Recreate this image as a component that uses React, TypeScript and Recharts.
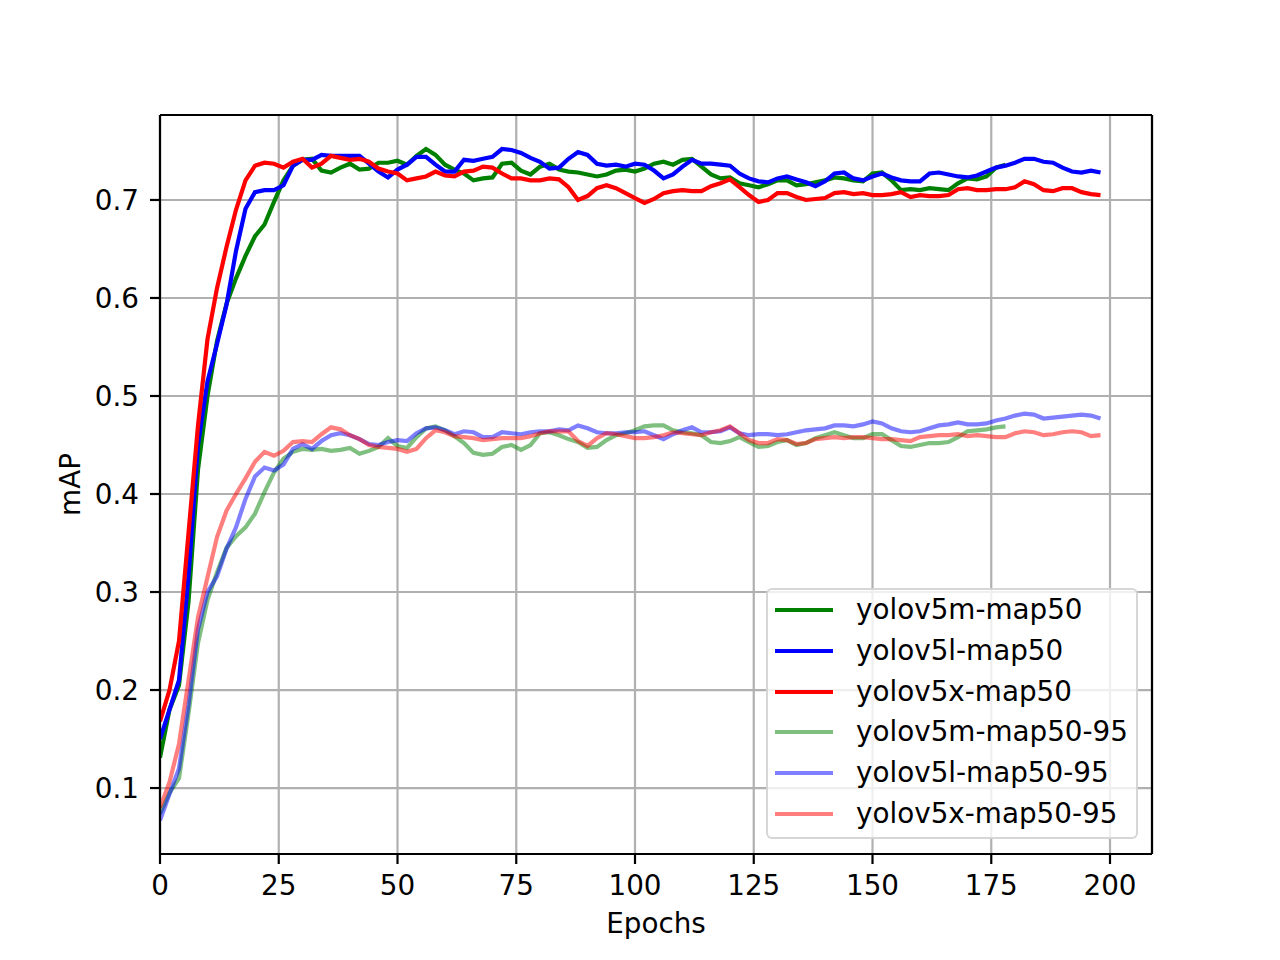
import {
  LineChart,
  Line,
  XAxis,
  YAxis,
  CartesianGrid,
  ReferenceLine,
  Label,
} from "recharts";

// epochs sampled every 2 epochs
const epochs = Array.from({ length: 100 }, (_, i) => i * 2);

const yolov5mMap50 = [
  0.131, 0.18, 0.205, 0.29, 0.425, 0.5, 0.556, 0.594, 0.62, 0.643,
  0.663, 0.675, 0.698, 0.72, 0.735, 0.741, 0.742, 0.73, 0.728, 0.733,
  0.737, 0.731, 0.732, 0.738, 0.738, 0.74, 0.736, 0.745, 0.752, 0.746,
  0.736, 0.731, 0.727, 0.72, 0.722, 0.723, 0.737, 0.738, 0.73, 0.726,
  0.734, 0.737, 0.731, 0.729, 0.728, 0.726, 0.724, 0.726, 0.73, 0.731,
  0.729, 0.732, 0.737, 0.739, 0.736, 0.741, 0.742, 0.734, 0.726, 0.722,
  0.723, 0.717, 0.715, 0.713, 0.716, 0.72, 0.72, 0.715, 0.716, 0.718,
  0.72, 0.723, 0.722, 0.72, 0.719, 0.727, 0.728, 0.72, 0.71, 0.711,
  0.71, 0.712, 0.711, 0.71, 0.717, 0.722, 0.721, 0.724, 0.733, 0.736,
];

const yolov5lMap50 = [
  0.15, 0.18, 0.21, 0.316, 0.45, 0.515, 0.553, 0.593, 0.648, 0.691,
  0.708, 0.71, 0.71, 0.715, 0.735, 0.741, 0.741, 0.746, 0.745, 0.745,
  0.745, 0.745, 0.737, 0.729, 0.723, 0.731, 0.736, 0.744, 0.744, 0.736,
  0.729, 0.729, 0.741, 0.74, 0.742, 0.744, 0.752, 0.751, 0.748, 0.743,
  0.739, 0.732, 0.733, 0.742, 0.749, 0.746, 0.737, 0.735, 0.736, 0.734,
  0.737, 0.736, 0.73, 0.722, 0.726, 0.734, 0.741, 0.737, 0.737, 0.736,
  0.735, 0.727, 0.722, 0.719, 0.718, 0.722, 0.724, 0.721, 0.718, 0.714,
  0.719, 0.727, 0.728, 0.722, 0.72, 0.724, 0.727, 0.723, 0.72, 0.719,
  0.719, 0.727, 0.728, 0.726, 0.724, 0.723, 0.725, 0.729, 0.733, 0.735,
  0.738, 0.742, 0.742, 0.739, 0.738, 0.733, 0.729, 0.728, 0.73, 0.728,
];

const yolov5xMap50 = [
  0.168, 0.2, 0.25, 0.36, 0.47, 0.558, 0.61, 0.652, 0.69, 0.72,
  0.735, 0.738, 0.737, 0.733, 0.739, 0.742, 0.733, 0.737, 0.745, 0.743,
  0.741, 0.742, 0.739, 0.732, 0.729, 0.727, 0.72, 0.722, 0.724, 0.729,
  0.725, 0.724, 0.729, 0.73, 0.734, 0.733, 0.727, 0.722, 0.722, 0.72,
  0.72, 0.722, 0.721, 0.713, 0.7, 0.704, 0.712, 0.715, 0.712, 0.707,
  0.702, 0.697, 0.701, 0.707, 0.709, 0.71, 0.709, 0.709, 0.714, 0.717,
  0.721, 0.713, 0.705, 0.698, 0.7, 0.707, 0.707, 0.703, 0.7, 0.701,
  0.702, 0.707, 0.708, 0.706, 0.707, 0.705, 0.705, 0.706, 0.708, 0.703,
  0.705, 0.704, 0.704, 0.705, 0.711, 0.712, 0.71, 0.71, 0.711, 0.711,
  0.713, 0.719, 0.716, 0.71, 0.709, 0.712, 0.712, 0.708, 0.706, 0.705,
];

const yolov5mMap5095 = [
  0.074, 0.095, 0.11, 0.176, 0.248, 0.292, 0.32, 0.345, 0.357, 0.366,
  0.38, 0.402, 0.422, 0.436, 0.443, 0.446, 0.445, 0.446, 0.444, 0.445,
  0.447, 0.441, 0.444, 0.448, 0.457, 0.449, 0.447, 0.458, 0.467, 0.469,
  0.465, 0.459, 0.452, 0.442, 0.44, 0.441, 0.448, 0.45, 0.445, 0.45,
  0.462, 0.463, 0.46, 0.456, 0.453, 0.447, 0.448, 0.455, 0.46, 0.462,
  0.465, 0.469, 0.47, 0.47, 0.465, 0.463, 0.462, 0.46, 0.453, 0.452,
  0.454, 0.458, 0.453, 0.448, 0.449, 0.453, 0.455, 0.45, 0.452, 0.457,
  0.46, 0.463, 0.46, 0.457, 0.457, 0.461, 0.461, 0.455, 0.449, 0.448,
  0.45, 0.452, 0.452, 0.453, 0.458, 0.464, 0.465, 0.466, 0.468, 0.469,
];

const yolov5lMap5095 = [
  0.067, 0.094, 0.12, 0.185, 0.262, 0.3, 0.316, 0.344, 0.366, 0.395,
  0.418, 0.427, 0.424, 0.43, 0.446, 0.451, 0.446, 0.454, 0.46, 0.462,
  0.46, 0.456, 0.451, 0.45, 0.453, 0.455, 0.454, 0.462, 0.467, 0.468,
  0.465, 0.461, 0.464, 0.463, 0.458, 0.458, 0.463, 0.462, 0.461, 0.463,
  0.464, 0.464, 0.466, 0.465, 0.47, 0.467, 0.463, 0.462, 0.462, 0.463,
  0.463, 0.464, 0.46, 0.456, 0.461, 0.465, 0.468, 0.463, 0.463, 0.464,
  0.468, 0.462, 0.46, 0.461, 0.461, 0.46, 0.461, 0.463, 0.465, 0.466,
  0.467, 0.47, 0.47, 0.469, 0.471, 0.474, 0.472, 0.467, 0.464, 0.463,
  0.464, 0.467, 0.47, 0.471, 0.473, 0.471, 0.471, 0.472, 0.475, 0.477,
  0.48, 0.482, 0.481, 0.477, 0.478, 0.479, 0.48, 0.481, 0.48, 0.477,
];

const yolov5xMap5095 = [
  0.08, 0.106, 0.145, 0.21, 0.274, 0.315, 0.356, 0.383, 0.4, 0.416,
  0.433, 0.443, 0.439, 0.444, 0.453, 0.454, 0.453, 0.461, 0.468, 0.466,
  0.46, 0.456, 0.45, 0.448, 0.447, 0.446, 0.443, 0.446, 0.457, 0.465,
  0.463, 0.459, 0.458, 0.457, 0.455, 0.456, 0.457, 0.457, 0.457, 0.459,
  0.462, 0.464, 0.464, 0.464, 0.454, 0.449, 0.457, 0.462, 0.461, 0.459,
  0.457, 0.457, 0.458, 0.46, 0.463, 0.462, 0.461, 0.46, 0.463, 0.465,
  0.469, 0.462, 0.455, 0.452, 0.452, 0.456, 0.455, 0.451, 0.452, 0.456,
  0.457, 0.458, 0.457, 0.458, 0.458, 0.457, 0.456, 0.456, 0.455, 0.454,
  0.458, 0.459, 0.46, 0.46, 0.461, 0.459, 0.46, 0.459, 0.458, 0.458,
  0.462, 0.464, 0.463, 0.46, 0.461, 0.463, 0.464, 0.463, 0.459, 0.46,
];

const xTicks = [0, 25, 50, 75, 100, 125, 150, 175, 200];
const yTicks = [0.1, 0.2, 0.3, 0.4, 0.5, 0.6, 0.7];
const xMax = 208.84;
const yMin = 0.0327;
const yMax = 0.7867;

const series = [
  { key: "m50", name: "yolov5m-map50", color: "#008000", opacity: 1, values: yolov5mMap50 },
  { key: "l50", name: "yolov5l-map50", color: "#0000ff", opacity: 1, values: yolov5lMap50 },
  { key: "x50", name: "yolov5x-map50", color: "#ff0000", opacity: 1, values: yolov5xMap50 },
  { key: "m5095", name: "yolov5m-map50-95", color: "#008000", opacity: 0.5, values: yolov5mMap5095 },
  { key: "l5095", name: "yolov5l-map50-95", color: "#0000ff", opacity: 0.5, values: yolov5lMap5095 },
  { key: "x5095", name: "yolov5x-map50-95", color: "#ff0000", opacity: 0.5, values: yolov5xMap5095 },
];

const data = epochs.map((epoch, i) => {
  const row: Record<string, number | null> = { epoch };
  series.forEach((s) => {
    row[s.key] = s.values[i] ?? null;
  });
  return row;
});

const FONT = "'DejaVu Sans', sans-serif";
const tickStyle = { fontSize: 27.8, fill: "#000", fontFamily: FONT };

function YTitle(props: any) {
  const vb = props.viewBox || { x: 0, y: 115, height: 739 };
  const cx = vb.x + 80;
  const cy = vb.y + vb.height / 2;
  return (
    <text
      transform={`translate(${cx}, ${cy}) rotate(-90)`}
      textAnchor="middle"
      fontSize={27.8}
      fontFamily={FONT}
      fill="#000"
    >
      mAP
    </text>
  );
}

function ChartLegend() {
  return (
    <div
      style={{
        position: "absolute",
        left: 766,
        top: 588,
        width: 372,
        height: 251,
        boxSizing: "border-box",
        border: "2.5px solid rgba(204,204,204,0.8)",
        borderRadius: 6,
        background: "rgba(255,255,255,0.8)",
        fontFamily: FONT,
        fontSize: 27.8,
        color: "#000",
        display: "flex",
        flexDirection: "column",
      }}
    >
      {series.map((s) => (
        <div
          key={s.key}
          style={{ height: 40.67, display: "flex", alignItems: "center", flexShrink: 0 }}
        >
          <div
            style={{
              marginLeft: 7,
              width: 58,
              height: 4.2,
              background: s.color,
              opacity: s.opacity,
            }}
          />
          <span style={{ marginLeft: 23, lineHeight: 1, whiteSpace: "nowrap" }}>{s.name}</span>
        </div>
      ))}
    </div>
  );
}

export default function App() {
  return (
    <div
      style={{
        position: "absolute",
        left: 0,
        top: 0,
        width: 1280,
        height: 960,
        background: "#fff",
        fontFamily: FONT,
      }}
    >
      <LineChart
        width={1280}
        height={960}
        data={data}
        margin={{ top: 115, right: 128, bottom: 46, left: 0 }}
      >
        <CartesianGrid stroke="#b0b0b0" strokeWidth={2.2} />
        <XAxis
          dataKey="epoch"
          type="number"
          domain={[0, xMax]}
          ticks={xTicks}
          allowDataOverflow
          height={60}
          tick={tickStyle}
          tickSize={10}
          tickMargin={11}
          axisLine={{ stroke: "#000", strokeWidth: 2.2 }}
          tickLine={{ stroke: "#000", strokeWidth: 2.2 }}
        >
          <Label
            value="Epochs"
            position="bottom"
            offset={-1}
            style={{ fontSize: 27.8, fill: "#000", fontFamily: FONT }}
          />
        </XAxis>
        <YAxis
          type="number"
          domain={[yMin, yMax]}
          ticks={yTicks}
          allowDataOverflow
          width={160}
          tick={tickStyle}
          tickFormatter={(v: number) => v.toFixed(1)}
          tickSize={10}
          tickMargin={11}
          axisLine={{ stroke: "#000", strokeWidth: 2.2 }}
          tickLine={{ stroke: "#000", strokeWidth: 2.2 }}
        >
          <Label content={YTitle} />
        </YAxis>
        {series.map((s) => (
          <Line
            key={s.key}
            type="linear"
            dataKey={s.key}
            name={s.name}
            stroke={s.color}
            strokeOpacity={s.opacity}
            strokeWidth={4.2}
            dot={false}
            activeDot={false}
            isAnimationActive={false}
          />
        ))}
        <ReferenceLine y={yMax} stroke="#000" strokeWidth={2.2} ifOverflow="visible" />
        <ReferenceLine x={xMax} stroke="#000" strokeWidth={2.2} ifOverflow="visible" />
      </LineChart>
      <ChartLegend />
    </div>
  );
}
